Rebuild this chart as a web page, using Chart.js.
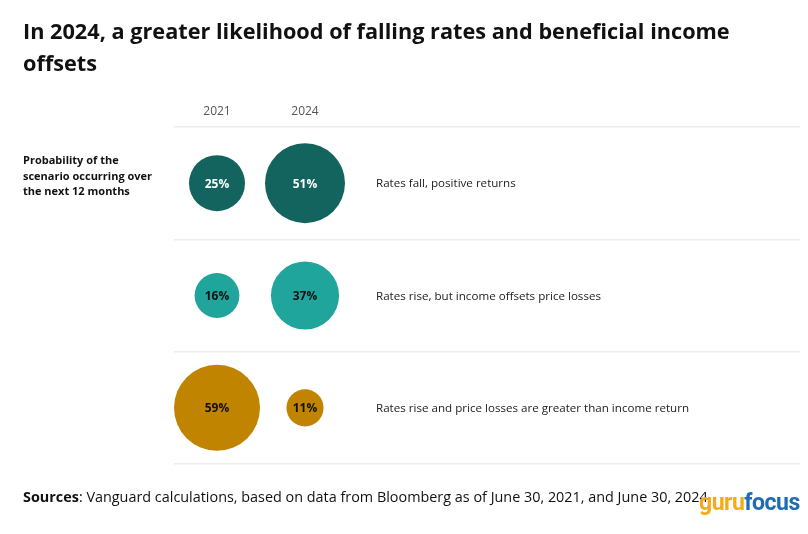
<!DOCTYPE html>
<html>
<head>
<meta charset="utf-8">
<script src="https://cdn.jsdelivr.net/npm/chart.js@4.4.1/dist/chart.umd.min.js"></script>
<style>
  html, body { margin: 0; padding: 0; background: #fff; }
  body { width: 808px; height: 534px; position: relative; overflow: hidden; font-family: "Open Sans", Lato, sans-serif; }
  #wrap { position: absolute; left: 0; top: 0; width: 843px; height: 534px; }
  #title { position: absolute; left: 23px; top: 15px; font-size: 21.7px; font-weight: 700; line-height: 32px; color: #111; }
  #side { position: absolute; left: 23px; top: 152px; font-size: 11px; font-weight: 700; line-height: 15.5px; color: #111; }
  #src { position: absolute; left: 23px; top: 487px; font-size: 14.4px; color: #111; white-space: nowrap; }
  #logo { position: absolute; left: 699px; top: 489px; font-size: 23px; font-weight: 700; font-family: "Liberation Sans Narrow", "Roboto", sans-serif; letter-spacing: -0.5px; }
  #logo .g { color: #f6a91c; }
  #logo .f { color: #1d6db4; }
</style>
</head>
<body>
<!-- canvas is wider than the page: bubble overflow padding would otherwise pull the plot in from the right edge -->
<div id="wrap"><canvas id="bubbleChart" width="843" height="534"></canvas></div>
<div id="title">In 2024, a greater likelihood of falling rates and beneficial income<br>offsets</div>
<div id="side">Probability of the<br>scenario occurring over<br>the next 12 months</div>
<div id="src"><b>Sources</b>: Vanguard calculations, based on data from Bloomberg as of June 30, 2021, and June 30, 2024.</div>
<div id="logo"><span class="g">guru</span><span class="f">focus</span></div>

<script>
// ===== DATA =====
const years = ['2021', '2024'];
const scenarios = [
  'Rates fall, positive returns',
  'Rates rise, but income offsets price losses',
  'Rates rise and price losses are greater than income return'
];
const values2021 = [25, 16, 59];
const values2024 = [51, 37, 11];

const rowColors = ['#13635e', '#1fa59c', '#c08400'];
const labelColors = ['#ffffff', '#111111', '#111111'];
const FONT = '"Open Sans", Lato, sans-serif';

// bubble area proportional to probability
function radiusFor(v) {
  return 5.6 * Math.sqrt(v);
}

const points = [];
scenarios.forEach((s, row) => {
  [values2021[row], values2024[row]].forEach((v, col) => {
    points.push({ x: col, y: row, r: radiusFor(v), v: v, row: row });
  });
});

/* ------------------------------
   LABELS: % in bubbles + scenario text
--------------------------------*/
const bubbleLabels = {
  id: 'bubbleLabels',
  afterDatasetsDraw(chart) {
    const { ctx } = chart;
    const meta = chart.getDatasetMeta(0);
    const yScale = chart.scales.y;
    ctx.save();
    ctx.textAlign = 'center';
    ctx.textBaseline = 'middle';
    ctx.font = 'bold 12px ' + FONT;
    meta.data.forEach((el, i) => {
      const p = points[i];
      ctx.fillStyle = labelColors[p.row];
      ctx.fillText(p.v + '%', el.x, el.y + 1);
    });
    ctx.textAlign = 'left';
    ctx.font = '11.6px ' + FONT;
    ctx.fillStyle = '#222';
    scenarios.forEach((s, row) => {
      ctx.fillText(s, 376, yScale.getPixelForValue(row) + 1);
    });
    ctx.restore();
  }
};

const ctx = document.getElementById('bubbleChart').getContext('2d');

new Chart(ctx, {
  type: 'bubble',
  data: {
    datasets: [{
      data: points,
      backgroundColor: points.map(p => rowColors[p.row]),
      borderWidth: 0,
      clip: false
    }]
  },
  options: {
    responsive: false,
    animation: false,
    events: [],
    layout: { padding: { left: 174, right: 0, top: 97, bottom: 70 } },
    plugins: { legend: { display: false }, tooltip: { enabled: false } },
    scales: {
      x: {
        type: 'linear',
        position: 'top',
        min: -0.4886,
        max: 6.625,
        afterBuildTicks: s => { s.ticks = [{ value: 0 }, { value: 1 }]; },
        afterFit: s => { s.height = 30; },
        ticks: {
          callback: v => years[v],
          color: '#555',
          font: { size: 12, family: FONT },
          padding: 0,
          maxRotation: 0
        },
        grid: { display: false },
        border: { display: false }
      },
      y: {
        type: 'linear',
        reverse: true,
        min: -0.5,
        max: 2.5,
        afterBuildTicks: s => { s.ticks = [-0.5, 0.5, 1.5, 2.5].map(v => ({ value: v })); },
        afterFit: s => { s.width = 0; },
        ticks: { display: false },
        grid: { color: '#ececec', lineWidth: 1.5, drawTicks: false },
        border: { display: false }
      }
    }
  },
  plugins: [bubbleLabels]
});
</script>
</body>
</html>
